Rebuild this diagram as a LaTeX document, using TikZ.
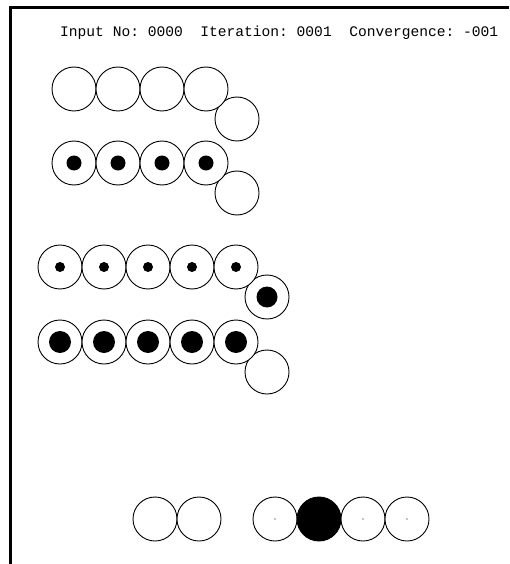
\documentclass[tikz,border=0pt]{standalone}
\usepackage{fontspec}
\setmonofont{Liberation Mono}
\begin{document}
\begin{tikzpicture}[x=1pt,y=-1pt,
  unit/.style={circle,draw=black,line width=0.9pt,minimum size=44pt,inner sep=0pt,fill=white},
  dot/.style={circle,fill=black,inner sep=0pt,minimum size=#1},
  lbl/.style={font=\ttfamily\fontsize{14.6}{16}\selectfont,inner sep=0pt}]
\useasboundingbox (0,0) rectangle (509,564);
\draw[line width=3pt] (10,564) -- (10,8) -- (509,8);
\node[lbl,anchor=base west] (title) at (60,37) {Input No: 0000\ \ Iteration: 0001\ \ Convergence: -001};
% extra (offset) units, drawn first so the rows lie over them
\node[unit] (a5) at (237,119) {};
\node[unit] (b5) at (237,193) {};
\node[unit] (c6) at (267,297) {};
\node[dot=21pt] (cd6) at (c6) {};
\node[unit] (d6) at (267,372) {};
% row 1
\foreach \i/\x in {1/74,2/118,3/162,4/206} \node[unit] (a\i) at (\x,89) {};
% row 2
\foreach \i/\x in {1/74,2/118,3/162,4/206} {
  \node[unit] (b\i) at (\x,163) {};
  \node[dot=15pt] (bd\i) at (b\i) {};
}
% row 3
\foreach \i/\x in {1/60,2/104,3/148,4/192,5/236} {
  \node[unit] (c\i) at (\x,267) {};
  \node[dot=10pt] (cd\i) at (c\i) {};
}
% row 4
\foreach \i/\x in {1/60,2/104,3/148,4/192,5/236} {
  \node[unit] (d\i) at (\x,342) {};
  \node[dot=22pt] (dd\i) at (d\i) {};
}
% bottom
\node[unit] (e1) at (155,519) {};
\node[unit] (e2) at (199,519) {};
\node[unit] (f1) at (275,519) {};
\node[dot=1.3pt] (fd1) at (f1) {};
\node[unit,fill=black] (f2) at (319,519) {};
\node[unit] (f3) at (363,519) {};
\node[dot=1.3pt] (fd3) at (f3) {};
\node[unit] (f4) at (407,519) {};
\node[dot=1.3pt] (fd4) at (f4) {};
\end{tikzpicture}
\end{document}
